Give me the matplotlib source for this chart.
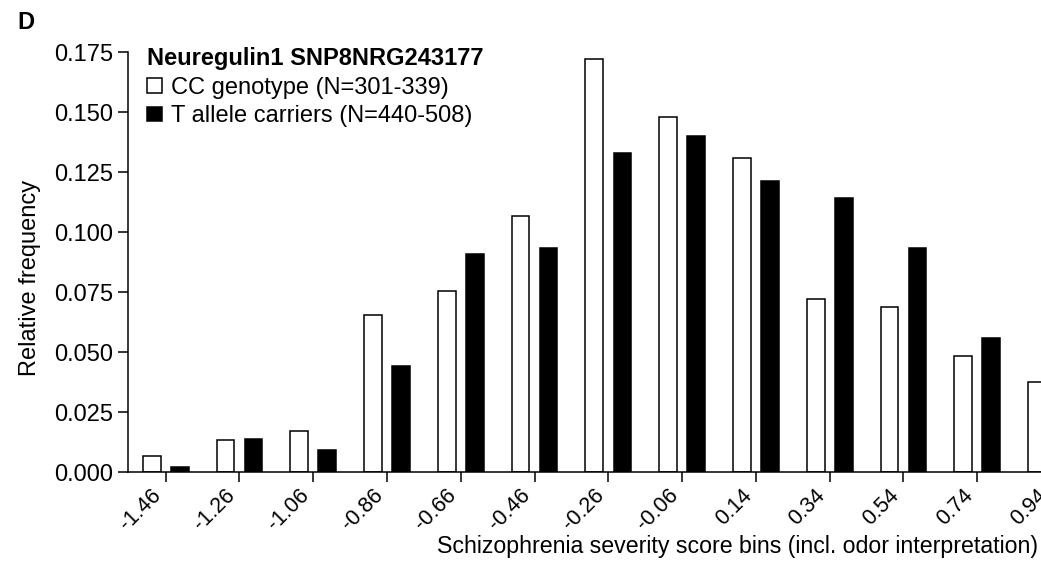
import matplotlib
matplotlib.use('Agg')
import matplotlib.pyplot as plt
import numpy as np

plt.rcParams['font.family'] = ['Liberation Sans', 'DejaVu Sans']

bins = ['-1.46', '-1.26', '-1.06', '-0.86', '-0.66', '-0.46', '-0.26',
        '-0.06', '0.14', '0.34', '0.54', '0.74', '0.94']
cc_freq = [0.0067, 0.0135, 0.0171, 0.0653, 0.0755, 0.1068, 0.172,
           0.148, 0.1308, 0.0722, 0.0688, 0.0482, 0.0375]
# last T-carrier bar (0.94) is cut off in the source figure
t_freq = [0.0022, 0.0139, 0.0092, 0.0442, 0.091, 0.0935, 0.133,
          0.140, 0.1214, 0.1143, 0.0933, 0.0558]

fs = 17

fig = plt.figure(figsize=(10.41, 5.62), dpi=100)
ax = fig.add_axes([0.123, 0.160, 0.915, 0.7473])

x = np.arange(len(bins))
w = 0.24
ax.bar(x - 0.19, cc_freq, width=w, color='white', edgecolor='black',
       linewidth=1.1, label='CC genotype (N=301-339)')
ax.bar(np.arange(len(t_freq)) + 0.19, t_freq, width=w, color='black',
       edgecolor='black', linewidth=1.1, label='T allele carriers (N=440-508)')

ax.set_xlim(-0.51, 12.4)
ax.set_ylim(0, 0.175)
ax.set_xticks(x)
ax.set_xticklabels(bins, rotation=45, ha='right', va='bottom',
                   rotation_mode='anchor', fontsize=15.5)
yt = np.arange(0, 0.176, 0.025)
ax.set_yticks(yt)
ax.set_yticklabels(['%.3f' % v for v in yt], fontsize=fs)

for s in ['top', 'right']:
    ax.spines[s].set_visible(False)
for s in ['left', 'bottom']:
    ax.spines[s].set_linewidth(1.1)
ax.tick_params(axis='both', direction='out', length=7, width=1.1, pad=4)
ax.tick_params(axis='x', pad=13)

fig.text(30 / 1041, 0.505, 'Relative frequency', fontsize=fs,
         rotation=90, ha='center', va='center')
fig.text(1038 / 1041, 1 - 547 / 562,
         'Schizophrenia severity score bins (incl. odor interpretation)',
         fontsize=16.7, ha='right', va='center')

leg = ax.legend(loc='upper left', bbox_to_anchor=(0.008, 1.04), frameon=False,
                title='Neuregulin1 SNP8NRG243177', alignment='left',
                title_fontproperties={'weight': 'bold', 'size': fs},
                fontsize=fs, handlelength=0.6, handleheight=0.6,
                handletextpad=0.4, labelspacing=0.28, borderaxespad=0.3,
                borderpad=0.2)

fig.text(17 / 1041, 1 - 11 / 562, 'D', fontsize=17, fontweight='bold', va='top')

fig.savefig('out.png', dpi=100)
